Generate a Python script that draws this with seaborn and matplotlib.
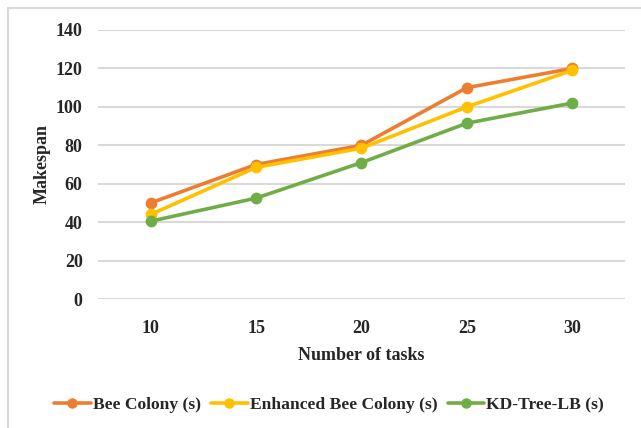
import matplotlib
matplotlib.use("Agg")
import matplotlib.pyplot as plt
import seaborn as sns
import pandas as pd
from matplotlib.lines import Line2D
from matplotlib.patches import Rectangle

tasks = ["10", "15", "20", "25", "30"]
bee_colony = [50, 70, 80, 110, 120]
enhanced_bee = [44, 68.5, 78.5, 100, 119]
kd_tree = [40.5, 52.5, 71, 91.5, 102]
series_names = ["Bee Colony (s)", "Enhanced Bee Colony (s)", "KD-Tree-LB (s)"]
colors = ["#ED7D31", "#FFC000", "#70AD47"]
yticks = [0, 20, 40, 60, 80, 100, 120, 140]

df = pd.DataFrame({
    "tasks": tasks * 3,
    "value": bee_colony + enhanced_bee + kd_tree,
    "series": [s for s in series_names for _ in tasks],
})

sns.set_theme(style="white")
plt.rcParams["font.family"] = ["Liberation Serif", "DejaVu Serif"]
plt.rcParams["font.weight"] = "bold"

FS = 13
fig = plt.figure(figsize=(6.41, 4.28), dpi=100)
fig.patches.append(Rectangle((8 / 641, -0.1), 1.2, (1 - 8 / 428) + 0.1, transform=fig.transFigure,
                             fill=False, edgecolor="#d9d9d9", linewidth=1.5, zorder=0))
ax = fig.add_axes([98 / 641, 1 - 299 / 428, 527 / 641, 269 / 428])

sns.pointplot(data=df, x="tasks", y="value", hue="series", order=tasks,
              hue_order=series_names, palette=colors, markers="o", linestyles="-",
              errorbar=None, ax=ax, linewidth=2.6, markersize=6.5, legend=False)

ax.set_ylim(0, 140)
ax.set_xlim(-0.5, 4.5)
ax.set_yticks(yticks)
ax.set_yticklabels([str(v) for v in yticks])
for y in yticks:
    ax.axhline(y, color="#d9d9d9", linewidth=1.5, zorder=0)
for s in ax.spines.values():
    s.set_visible(False)
ax.tick_params(axis="both", length=0, labelsize=FS)
ax.tick_params(axis="y", pad=11)
ax.tick_params(axis="x", pad=15)
for lab in ax.get_xticklabels() + ax.get_yticklabels():
    lab.set_fontweight("bold")
ax.set_xlabel("Number of tasks", fontsize=FS, fontweight="bold")
ax.set_ylabel("Makespan", fontsize=FS, fontweight="bold")
ax.xaxis.set_label_coords(0.5, -(355 - 299) / 269, transform=ax.transAxes)
ax.xaxis.label.set_va("center")
ax.yaxis.set_label_coords(-(98 - 42) / 527, 0.5, transform=ax.transAxes)
ax.yaxis.label.set_va("center")
ax.set_facecolor("white")

handles = [Line2D([0], [0], color=c, linewidth=2.6, marker="o", markersize=6.5) for c in colors]
fig.legend(handles, series_names, loc="center", bbox_to_anchor=(329 / 641, 1 - 405 / 428),
           ncol=3, frameon=False, handlelength=2.1, handletextpad=0.1, columnspacing=0.6,
           prop={"size": 12.6, "weight": "bold"})

fig.savefig("out.png", dpi=100, facecolor="white")
